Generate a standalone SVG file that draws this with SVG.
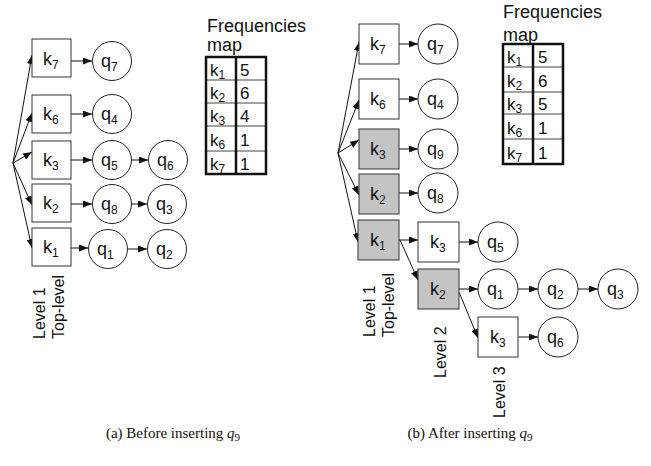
<svg xmlns="http://www.w3.org/2000/svg" width="651" height="466" viewBox="0 0 651 466">
<style>
.bx{fill:#fff;stroke:#333;stroke-width:1}
.gr{fill:#c4c4c4;stroke:#333;stroke-width:1}
.cr{fill:#fff;stroke:#222;stroke-width:1}
.t{font-family:"Liberation Sans",Arial,sans-serif;font-size:18px;fill:#111}
.s{font-size:12px}
.lv{font-family:"Liberation Sans",Arial,sans-serif;font-size:16px;fill:#111}
.cap{font-family:"Liberation Serif","Times New Roman",serif;font-size:15px;fill:#111}
.ln{stroke:#111;stroke-width:1;fill:none;marker-end:url(#ah)}
.tb{fill:none;stroke:#111;stroke-width:2.5}
.tr{stroke:#444;stroke-width:1}
.tv{font-family:"Liberation Sans",Arial,sans-serif;font-size:17px;fill:#111}
</style>
<defs>
<marker id="ah" markerWidth="9" markerHeight="7" refX="9" refY="3.5" orient="auto" markerUnits="userSpaceOnUse">
<path d="M0,0 L9,3.5 L0,7 z" fill="#111"/>
</marker>
</defs>

<!-- ===== Left panel (a) ===== -->
<g id="a-connectors">
<path class="ln" d="M13,163 L32,55"/>
<path class="ln" d="M13,163 L32,113"/>
<path class="ln" d="M13,163 L32,152"/>
<path class="ln" d="M13,163 L32,205"/>
<path class="ln" d="M13,163 L32,248"/>
<path class="ln" d="M71,61 L92,61"/>
<path class="ln" d="M71,114 L92,114"/>
<path class="ln" d="M71,160 L92,160"/>
<path class="ln" d="M132,160 L148,160"/>
<path class="ln" d="M71,204 L92,204"/>
<path class="ln" d="M132,204 L147,204"/>
<path class="ln" d="M68,248 L88,248"/>
<path class="ln" d="M128,249 L147,249"/>
</g>
<g id="a-k7"><rect class="bx" x="32" y="39" width="39" height="38"/><text class="t" x="43" y="65">k<tspan class="s" dy="4">7</tspan></text></g>
<g id="a-k6"><rect class="bx" x="32" y="95" width="39" height="38"/><text class="t" x="43" y="120">k<tspan class="s" dy="4">6</tspan></text></g>
<g id="a-k3"><rect class="bx" x="32" y="141" width="39" height="38"/><text class="t" x="43" y="166">k<tspan class="s" dy="4">3</tspan></text></g>
<g id="a-k2"><rect class="bx" x="32" y="184" width="39" height="38"/><text class="t" x="43" y="209">k<tspan class="s" dy="4">2</tspan></text></g>
<g id="a-k1"><rect class="bx" x="32" y="228" width="39" height="38"/><text class="t" x="43" y="253">k<tspan class="s" dy="4">1</tspan></text></g>
<g id="a-q7"><circle class="cr" cx="112" cy="61" r="19.5"/><text class="t" x="101" y="67">q<tspan class="s" dy="4">7</tspan></text></g>
<g id="a-q4"><circle class="cr" cx="112" cy="114" r="19.5"/><text class="t" x="101" y="120">q<tspan class="s" dy="4">4</tspan></text></g>
<g id="a-q5"><circle class="cr" cx="112" cy="160" r="19.5"/><text class="t" x="101" y="166">q<tspan class="s" dy="4">5</tspan></text></g>
<g id="a-q6"><circle class="cr" cx="168" cy="160" r="19.5"/><text class="t" x="157" y="166">q<tspan class="s" dy="4">6</tspan></text></g>
<g id="a-q8"><circle class="cr" cx="112" cy="204" r="19.5"/><text class="t" x="101" y="210">q<tspan class="s" dy="4">8</tspan></text></g>
<g id="a-q3"><circle class="cr" cx="167" cy="204" r="19.5"/><text class="t" x="156" y="210">q<tspan class="s" dy="4">3</tspan></text></g>
<g id="a-q1"><circle class="cr" cx="108" cy="249" r="19.5"/><text class="t" x="97" y="255">q<tspan class="s" dy="4">1</tspan></text></g>
<g id="a-q2"><circle class="cr" cx="167" cy="249" r="19.5"/><text class="t" x="156" y="255">q<tspan class="s" dy="4">2</tspan></text></g>
<g id="a-levels">
<text class="lv" transform="translate(45,339) rotate(-90)">Level 1</text>
<text class="lv" transform="translate(64,339) rotate(-90)">Top-level</text>
</g>
<g id="a-map">
<text class="t" x="207" y="32">Frequencies</text>
<text class="t" x="207" y="51">map</text>
<line class="tr" x1="206" y1="80" x2="266" y2="80"/>
<line class="tr" x1="206" y1="103" x2="266" y2="103"/>
<line class="tr" x1="206" y1="126" x2="266" y2="126"/>
<line class="tr" x1="206" y1="151" x2="266" y2="151"/>
<rect class="tb" x="206" y="57" width="60" height="117"/>
<line class="tb" x1="236" y1="57" x2="236" y2="174"/>
<text class="tv" x="210" y="76">k<tspan class="s" dy="3">1</tspan></text><text class="tv" x="240" y="76">5</text>
<text class="tv" x="210" y="99">k<tspan class="s" dy="3">2</tspan></text><text class="tv" x="240" y="99">6</text>
<text class="tv" x="210" y="122">k<tspan class="s" dy="3">3</tspan></text><text class="tv" x="240" y="122">4</text>
<text class="tv" x="210" y="146">k<tspan class="s" dy="3">6</tspan></text><text class="tv" x="240" y="146">1</text>
<text class="tv" x="210" y="170">k<tspan class="s" dy="3">7</tspan></text><text class="tv" x="240" y="170">1</text>
</g>

<!-- ===== Right panel (b) ===== -->
<g id="b-connectors">
<path class="ln" d="M338,153 L359,42"/>
<path class="ln" d="M338,153 L359,100"/>
<path class="ln" d="M338,153 L359,140"/>
<path class="ln" d="M338,153 L359,195"/>
<path class="ln" d="M338,153 L358,242"/>
<path class="ln" d="M399,44 L418,44"/>
<path class="ln" d="M399,99 L418,99"/>
<path class="ln" d="M399,149 L418,149"/>
<path class="ln" d="M399,193 L418,193"/>
<path class="ln" d="M399,240 L418,240"/>
<path class="ln" d="M400,240 L418,280"/>
<path class="ln" d="M459,242 L478,242"/>
<path class="ln" d="M459,289 L478,289"/>
<path class="ln" d="M459,292 L478,338"/>
<path class="ln" d="M518,289 L538,289"/>
<path class="ln" d="M578,289 L598,289"/>
<path class="ln" d="M518,337 L538,337"/>
</g>
<g id="b-k7"><rect class="bx" x="359" y="24" width="40" height="40"/><text class="t" x="370" y="50">k<tspan class="s" dy="4">7</tspan></text></g>
<g id="b-k6"><rect class="bx" x="359" y="79" width="40" height="40"/><text class="t" x="370" y="105">k<tspan class="s" dy="4">6</tspan></text></g>
<g id="b-k3"><rect class="gr" x="359" y="129" width="40" height="40"/><text class="t" x="370" y="155">k<tspan class="s" dy="4">3</tspan></text></g>
<g id="b-k2"><rect class="gr" x="359" y="174" width="40" height="40"/><text class="t" x="370" y="200">k<tspan class="s" dy="4">2</tspan></text></g>
<g id="b-k1"><rect class="gr" x="358" y="220" width="41" height="40"/><text class="t" x="370" y="246">k<tspan class="s" dy="4">1</tspan></text></g>
<g id="b-q7"><circle class="cr" cx="438" cy="44" r="20"/><text class="t" x="427" y="50">q<tspan class="s" dy="4">7</tspan></text></g>
<g id="b-q4"><circle class="cr" cx="438" cy="99" r="20"/><text class="t" x="427" y="105">q<tspan class="s" dy="4">4</tspan></text></g>
<g id="b-q9"><circle class="cr" cx="438" cy="149" r="20"/><text class="t" x="427" y="155">q<tspan class="s" dy="4">9</tspan></text></g>
<g id="b-q8"><circle class="cr" cx="438" cy="193" r="20"/><text class="t" x="427" y="199">q<tspan class="s" dy="4">8</tspan></text></g>
<g id="b-k3-l2"><rect class="bx" x="418" y="222" width="41" height="40"/><text class="t" x="430" y="248">k<tspan class="s" dy="4">3</tspan></text></g>
<g id="b-q5"><circle class="cr" cx="498" cy="242" r="20"/><text class="t" x="487" y="248">q<tspan class="s" dy="4">5</tspan></text></g>
<g id="b-k2-l2"><rect class="gr" x="418" y="269" width="41" height="40"/><text class="t" x="430" y="295">k<tspan class="s" dy="4">2</tspan></text></g>
<g id="b-q1"><circle class="cr" cx="498" cy="289" r="20"/><text class="t" x="487" y="295">q<tspan class="s" dy="4">1</tspan></text></g>
<g id="b-q2"><circle class="cr" cx="558" cy="289" r="20"/><text class="t" x="547" y="295">q<tspan class="s" dy="4">2</tspan></text></g>
<g id="b-q3"><circle class="cr" cx="618" cy="289" r="20"/><text class="t" x="607" y="295">q<tspan class="s" dy="4">3</tspan></text></g>
<g id="b-k3-l3"><rect class="bx" x="478" y="317" width="40" height="40"/><text class="t" x="490" y="343">k<tspan class="s" dy="4">3</tspan></text></g>
<g id="b-q6"><circle class="cr" cx="558" cy="337" r="20"/><text class="t" x="547" y="343">q<tspan class="s" dy="4">6</tspan></text></g>
<g id="b-levels">
<text class="lv" transform="translate(375,337) rotate(-90)">Level 1</text>
<text class="lv" transform="translate(394,337) rotate(-90)">Top-level</text>
<text class="lv" transform="translate(446,378) rotate(-90)">Level 2</text>
<text class="lv" transform="translate(505,418) rotate(-90)">Level 3</text>
</g>
<g id="b-map">
<text class="t" x="503" y="18">Frequencies</text>
<text class="t" x="503" y="41">map</text>
<line class="tr" x1="503" y1="67" x2="563" y2="67"/>
<line class="tr" x1="503" y1="92" x2="563" y2="92"/>
<line class="tr" x1="503" y1="114" x2="563" y2="114"/>
<line class="tr" x1="503" y1="139" x2="563" y2="139"/>
<rect class="tb" x="503" y="44" width="60" height="120"/>
<line class="tb" x1="533" y1="44" x2="533" y2="164"/>
<text class="tv" x="507" y="63">k<tspan class="s" dy="3">1</tspan></text><text class="tv" x="538" y="63">5</text>
<text class="tv" x="507" y="87">k<tspan class="s" dy="3">2</tspan></text><text class="tv" x="538" y="87">6</text>
<text class="tv" x="507" y="110">k<tspan class="s" dy="3">3</tspan></text><text class="tv" x="538" y="110">5</text>
<text class="tv" x="507" y="134">k<tspan class="s" dy="3">6</tspan></text><text class="tv" x="538" y="134">1</text>
<text class="tv" x="507" y="159">k<tspan class="s" dy="3">7</tspan></text><text class="tv" x="538" y="159">1</text>
</g>

<g id="captions">
<text class="cap" x="173" y="438" text-anchor="middle">(a) Before inserting <tspan font-style="italic">q</tspan><tspan font-size="11" dy="3">9</tspan></text>
<text class="cap" x="470" y="438" text-anchor="middle">(b) After inserting <tspan font-style="italic">q</tspan><tspan font-size="11" dy="3">9</tspan></text>
</g>
</svg>
